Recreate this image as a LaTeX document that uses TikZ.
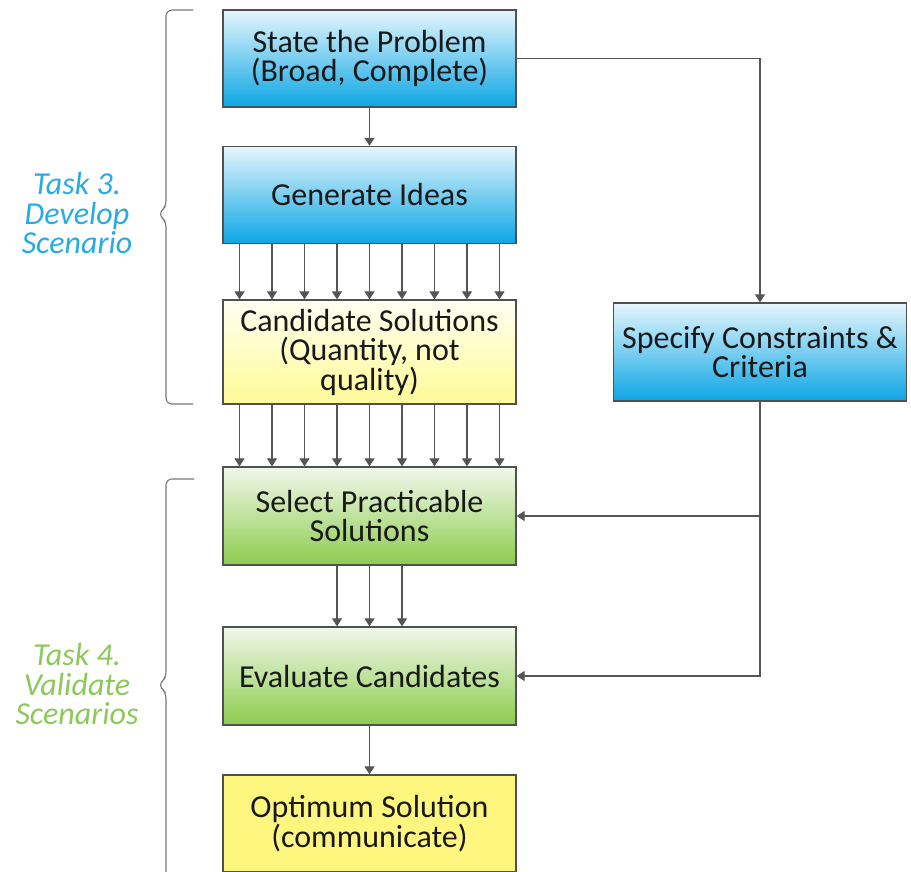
\documentclass[tikz,border=0pt]{standalone}
\usepackage{fontspec}
\setmainfont{Carlito}
\usetikzlibrary{arrows.meta}

\definecolor{boxline}{RGB}{80,80,80}
\definecolor{arrgray}{RGB}{85,85,85}
\definecolor{bracegray}{RGB}{120,120,120}
\definecolor{textdark}{RGB}{25,25,25}
\definecolor{blueTop}{RGB}{230,246,253}
\definecolor{blueBot}{RGB}{12,166,228}
\definecolor{yelTop}{RGB}{255,255,242}
\definecolor{yelBot}{RGB}{255,250,150}
\definecolor{grnTop}{RGB}{242,248,236}
\definecolor{grnBot}{RGB}{140,204,78}
\definecolor{optYel}{RGB}{255,246,128}
\definecolor{taskblue}{RGB}{40,170,226}
\definecolor{taskgreen}{RGB}{140,200,90}

\begin{document}
\begin{tikzpicture}[x=1pt, y=-1pt,
    box/.style={draw=boxline, line width=1.3pt, minimum width=293pt, minimum height=97pt,
        inner sep=0pt, align=center, text=textdark, font=\fontsize{32}{29.5}\selectfont},
    bluebox/.style={box, top color=blueTop, bottom color=blueBot},
    yelbox/.style={box, top color=yelTop, bottom color=yelBot},
    grnbox/.style={box, top color=grnTop, bottom color=grnBot},
    arr/.style={draw=arrgray, line width=1.2pt, -{Triangle[length=8pt,width=10pt]}},
    bracepath/.style={draw=bracegray, line width=1.1pt, rounded corners=6pt},
    tasklabel/.style={align=center, font=\fontsize{32}{29.5}\selectfont\itshape}]
    \useasboundingbox (0,0) rectangle (911,871);

    % boxes
    \node[bluebox] (prob) at (369.5,58.5) {State the Problem\\(Broad, Complete)};
    \node[bluebox] (ideas) at (369.5,195) {Generate Ideas};
    \node[yelbox, minimum height=104pt] (cand) at (369.5,352) {Candidate Solutions\\(Quantity, not\\quality)};
    \node[bluebox, minimum height=98pt] (spec) at (760,352) {Specify Constraints \&\\Criteria};
    \node[grnbox, minimum height=98pt] (sel) at (369.5,516) {Select Practicable\\Solutions};
    \node[grnbox, minimum height=98pt] (eval) at (369.5,676) {Evaluate Candidates};
    \node[box, fill=optYel] (opt) at (369.5,823.5) {Optimum Solution\\(communicate)};

    % task labels
    \node[tasklabel, text=taskblue] (task3) at (77,213) {Task 3.\\Develop\\Scenario};
    \node[tasklabel, text=taskgreen] (task4) at (77,684) {Task 4.\\Validate\\Scenarios};

    % braces
    \draw[bracepath] (193,10) -| (166,207) -- (158,214) -- (166,221) |- (193,404);
    \draw[bracepath] (194,479) -| (166,678) -- (158,685) -- (166,692) -- (166,890);

    % arrows
    \draw[arr] (prob) -- (ideas);

    \draw[arr] ([xshift=-130pt]ideas.south) -- ([xshift=-130pt]cand.north);
    \draw[arr] ([xshift=-97.5pt]ideas.south) -- ([xshift=-97.5pt]cand.north);
    \draw[arr] ([xshift=-65pt]ideas.south) -- ([xshift=-65pt]cand.north);
    \draw[arr] ([xshift=-32.5pt]ideas.south) -- ([xshift=-32.5pt]cand.north);
    \draw[arr] (ideas.south) -- (cand.north);
    \draw[arr] ([xshift=32.5pt]ideas.south) -- ([xshift=32.5pt]cand.north);
    \draw[arr] ([xshift=65pt]ideas.south) -- ([xshift=65pt]cand.north);
    \draw[arr] ([xshift=97.5pt]ideas.south) -- ([xshift=97.5pt]cand.north);
    \draw[arr] ([xshift=130pt]ideas.south) -- ([xshift=130pt]cand.north);

    \draw[arr] ([xshift=-130pt]cand.south) -- ([xshift=-130pt]sel.north);
    \draw[arr] ([xshift=-97.5pt]cand.south) -- ([xshift=-97.5pt]sel.north);
    \draw[arr] ([xshift=-65pt]cand.south) -- ([xshift=-65pt]sel.north);
    \draw[arr] ([xshift=-32.5pt]cand.south) -- ([xshift=-32.5pt]sel.north);
    \draw[arr] (cand.south) -- (sel.north);
    \draw[arr] ([xshift=32.5pt]cand.south) -- ([xshift=32.5pt]sel.north);
    \draw[arr] ([xshift=65pt]cand.south) -- ([xshift=65pt]sel.north);
    \draw[arr] ([xshift=97.5pt]cand.south) -- ([xshift=97.5pt]sel.north);
    \draw[arr] ([xshift=130pt]cand.south) -- ([xshift=130pt]sel.north);

    \draw[arr] ([xshift=-32.5pt]sel.south) -- ([xshift=-32.5pt]eval.north);
    \draw[arr] (sel.south) -- (eval.north);
    \draw[arr] ([xshift=32.5pt]sel.south) -- ([xshift=32.5pt]eval.north);

    \draw[arr] (eval) -- (opt);

    \draw[arr] (prob.east) -| (spec.north);
    \draw[arr] (spec.south) |- (sel.east);
    \draw[arr] (spec.south) |- (eval.east);
\end{tikzpicture}
\end{document}
